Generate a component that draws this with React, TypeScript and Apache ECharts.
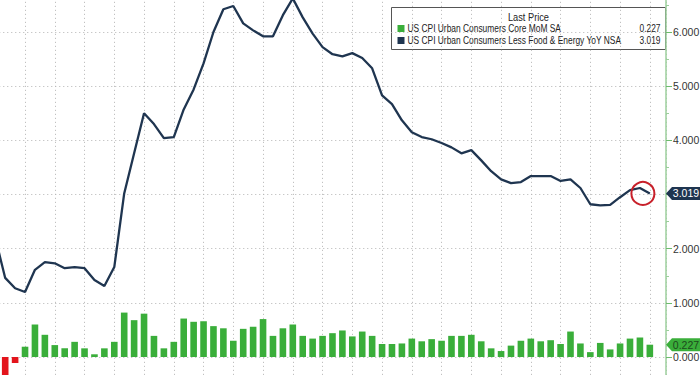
import React, { useEffect, useRef } from "react";
import * as echarts from "echarts";

// Months (x index 0 = Mar 2020)
const months = [
  "2020-03", "2020-04", "2020-05", "2020-06", "2020-07", "2020-08", "2020-09", "2020-10", "2020-11", "2020-12",
  "2021-01", "2021-02", "2021-03", "2021-04", "2021-05", "2021-06", "2021-07", "2021-08", "2021-09", "2021-10", "2021-11", "2021-12",
  "2022-01", "2022-02", "2022-03", "2022-04", "2022-05", "2022-06", "2022-07", "2022-08", "2022-09", "2022-10", "2022-11", "2022-12",
  "2023-01", "2023-02", "2023-03", "2023-04", "2023-05", "2023-06", "2023-07", "2023-08", "2023-09", "2023-10", "2023-11", "2023-12",
  "2024-01", "2024-02", "2024-03", "2024-04", "2024-05", "2024-06", "2024-07", "2024-08", "2024-09", "2024-10", "2024-11", "2024-12",
  "2025-01", "2025-02", "2025-03", "2025-04", "2025-05", "2025-06", "2025-07", "2025-08", "2025-09",
];

// US CPI Urban Consumers Less Food & Energy YoY NSA
const coreYoY = [
  2.2, 1.46, 1.27, 1.2, 1.61, 1.75, 1.73, 1.64, 1.66, 1.64,
  1.42, 1.31, 1.66, 3.02, 3.76, 4.5, 4.3, 4.04, 4.06, 4.57, 4.94, 5.42,
  6.0, 6.42, 6.48, 6.16, 6.03, 5.92, 5.92, 6.31, 6.62, 6.27, 5.97, 5.72,
  5.59, 5.55, 5.61, 5.52, 5.33, 4.83, 4.67, 4.37, 4.15, 4.06, 4.02, 3.95,
  3.87, 3.76, 3.82, 3.63, 3.43, 3.28, 3.21, 3.23, 3.34, 3.34, 3.34, 3.25,
  3.28, 3.12, 2.82, 2.8, 2.81, 2.95, 3.08, 3.12, 3.019,
];

// US CPI Urban Consumers Core MoM SA
const coreMoM = [
  null, -0.45, -0.11, 0.19, 0.6, 0.41, 0.22, 0.16, 0.28, 0.16,
  0.05, 0.16, 0.28, 0.82, 0.68, 0.8, 0.39, 0.16, 0.28, 0.71, 0.65, 0.66,
  0.57, 0.53, 0.3, 0.52, 0.56, 0.7, 0.39, 0.53, 0.6, 0.39, 0.34, 0.39,
  0.44, 0.49, 0.38, 0.47, 0.39, 0.24, 0.24, 0.25, 0.34, 0.29, 0.33, 0.3,
  0.39, 0.39, 0.41, 0.29, 0.16, 0.11, 0.21, 0.3, 0.34, 0.29, 0.31, 0.24,
  0.47, 0.25, 0.09, 0.26, 0.14, 0.25, 0.34, 0.36, 0.227,
];

const seriesNames = [
  "US CPI Urban Consumers Core MoM SA",
  "US CPI Urban Consumers Less Food & Energy YoY NSA",
];
const legendTitle = "Last Price";

const GREEN = "#3aae3a";
const RED = "#e3141c";
const NAVY = "#1f3550";
const FONT = "'Liberation Sans', Arial, sans-serif";

export default function App() {
  const ref = useRef<HTMLDivElement>(null);
  useEffect(() => {
    if (!ref.current) return;
    const chart = echarts.init(ref.current, undefined, { renderer: "svg" });
    const xMin = 0;
    const xMax = 67.63;
    const lastIdx = months.length - 1;
    const lastYoY = coreYoY[lastIdx];
    const lastMoM = coreMoM[lastIdx] as number;

    const lineData = coreYoY.map((v, i) => [i, v]);
    const barData = coreMoM
      .map((v, i) => (v === null ? null : { value: [i, v], itemStyle: { color: (v as number) < 0 ? RED : GREEN } }))
      .filter((d) => d !== null);

    const tagPath = "path://M0,6 L6,0 L34,0 L34,12 L6,12 Z";

    const legendText = (text: string, x: number, y: number, align: string, size: number, sx: number) => ({
      type: "text",
      x,
      y,
      scaleX: sx,
      style: { text, fill: "#222222", fontSize: size, fontFamily: FONT, align, verticalAlign: "middle" },
    });

    chart.setOption({
      animation: false,
      backgroundColor: "#ffffff",
      grid: { left: -4.72, right: 34, top: -22.17, bottom: -36.17, containLabel: false, outerBoundsMode: "none" },
      xAxis: {
        type: "value",
        min: xMin,
        max: xMax,
        interval: 3,
        axisLine: { show: false, onZero: false },
        axisTick: { show: false },
        axisLabel: { show: false },
        splitLine: { show: true, lineStyle: { color: "#b4b4b4", type: [1, 3], width: 1 } },
      },
      yAxis: {
        type: "value",
        position: "right",
        min: -1,
        max: 7,
        interval: 1,
        axisLine: { show: true, onZero: false, lineStyle: { color: "#9ccf9c", width: 1.5 } },
        axisTick: { show: true, length: 6, lineStyle: { color: "#6dbb6d" } },
        minorTick: { show: true, splitNumber: 2, length: 3, lineStyle: { color: "#9ccf9c" } },
        axisLabel: {
          show: true,
          margin: 7,
          color: "#333333",
          fontSize: 10.5,
          fontFamily: FONT,
          formatter: (v: number) => (v < 0 || v > 6 ? "" : v.toFixed(3)),
        },
        splitLine: { show: true, lineStyle: { color: "#b4b4b4", type: [1, 3], width: 1 } },
      },
      series: [
        {
          name: seriesNames[0],
          type: "bar",
          data: barData,
          barWidth: 6.6,
          itemStyle: { color: GREEN },
          markPoint: {
            symbol: tagPath,
            symbolSize: [34, 13],
            symbolOffset: [17, 0],
            symbolKeepAspect: false,
            itemStyle: { color: GREEN },
            label: {
              show: true,
              position: "inside",
              offset: [3, 0],
              color: "#1d4a1d",
              fontSize: 10.5,
              fontFamily: FONT,
              formatter: () => lastMoM.toFixed(3),
            },
            data: [{ coord: [xMax, lastMoM] }],
          },
        },
        {
          name: seriesNames[1],
          type: "line",
          data: lineData,
          symbol: "none",
          lineStyle: { color: NAVY, width: 2.3 },
          itemStyle: { color: NAVY },
          markPoint: {
            data: [
              {
                coord: [xMax, lastYoY],
                symbol: tagPath,
                symbolSize: [34, 13],
                symbolOffset: [17, 0],
                symbolKeepAspect: false,
                itemStyle: { color: NAVY },
                label: {
                  show: true,
                  position: "inside",
                  offset: [3, 0],
                  color: "#ffffff",
                  fontSize: 10.5,
                  fontFamily: FONT,
                  formatter: () => lastYoY.toFixed(3),
                },
              },
              {
                coord: [lastIdx - 0.7, lastYoY],
                symbol: "circle",
                symbolSize: 23,
                itemStyle: { color: "rgba(0,0,0,0)", borderColor: "#c8202a", borderWidth: 2 },
                label: { show: false },
              },
            ],
          },
        },
      ],
      graphic: [
        {
          type: "group",
          left: 391,
          top: 7,
          children: [
            {
              type: "rect",
              shape: { x: 0, y: 0, width: 274, height: 42 },
              style: { fill: "#ffffff", stroke: "#555555", lineWidth: 1 },
            },
            legendText(legendTitle, 137, 10, "center", 11, 0.84),
            { type: "rect", shape: { x: 6, y: 17.5, width: 7, height: 7 }, style: { fill: GREEN } },
            legendText(seriesNames[0], 16, 21, "left", 10.5, 0.8),
            legendText(lastMoM.toFixed(3), 269, 21, "right", 10.5, 0.8),
            { type: "rect", shape: { x: 6, y: 29.5, width: 7, height: 7 }, style: { fill: NAVY } },
            legendText(seriesNames[1], 16, 33, "left", 10.5, 0.8),
            legendText(lastYoY.toFixed(3), 269, 33, "right", 10.5, 0.8),
          ],
        },
      ],
    });
    return () => chart.dispose();
  }, []);
  return <div ref={ref} style={{ position: "fixed", left: 0, top: 0, width: 700, height: 375 }} />;
}
